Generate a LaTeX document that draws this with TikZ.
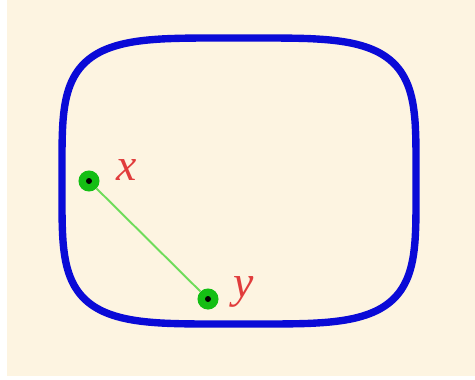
\documentclass[tikz,border=0pt]{standalone}
\usepackage{fontspec}
\setmainfont{Liberation Serif}
\definecolor{cream}{RGB}{253,244,225}
\definecolor{rimblue}{RGB}{10,10,215}
\definecolor{seggreen}{RGB}{110,220,90}
\definecolor{dotgreen}{RGB}{20,190,20}
\definecolor{labred}{RGB}{225,60,60}
\tikzset{
  dot/.style={circle,fill=dotgreen,inner sep=0pt,minimum size=12},
  lab/.style={text=labred,font=\fontsize{26}{30}\selectfont\itshape,inner sep=0pt}
}
\begin{document}
\begin{tikzpicture}[x=0.02cm,y=-0.02cm]
\useasboundingbox (0,0) rectangle (475,379);
\fill[white] (0,0) rectangle (475,379);
\fill[cream] (7,0) rectangle (475,376);

% rounded boundary
\draw[rimblue,line width=4.2pt] plot[domain=0.5:359.5,samples=180,smooth cycle]
  ({239+177*sign(cos(\x))*pow(abs(cos(\x)),0.47)},{181+143*sign(sin(\x))*pow(abs(sin(\x)),0.47)});

% the two points
\node[dot] (x) at (89,181) {};
\node[dot] (y) at (208,299) {};
\draw[seggreen,line width=1.1pt] (x) -- (y);
\fill (x) circle (3);
\fill (y) circle (3);
\node[lab] (lx) at (127,170) {x};
\node[lab] (ly) at (244,292) {y};
\end{tikzpicture}
\end{document}
